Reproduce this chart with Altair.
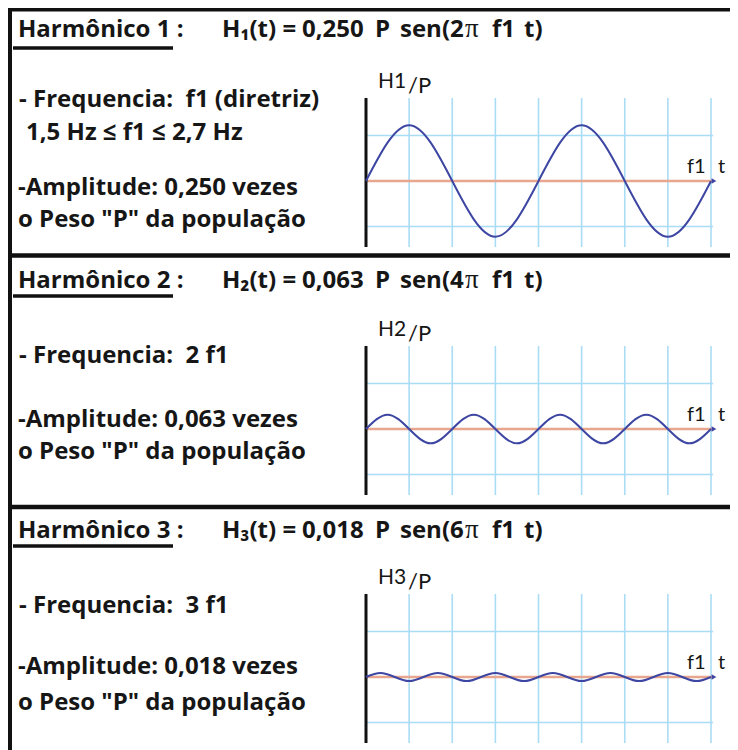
import altair as alt
import pandas as pd

# ---------------- data ----------------
x_h1 = [0, 1, 2, 3, 4, 5, 6, 7, 8]
y_h1 = [0, 0.245, 0, -0.245, 0, 0.245, 0, -0.245, 0]

x_h2 = [0, 0.5, 1, 1.5, 2, 2.5, 3, 3.5, 4, 4.5, 5, 5.5, 6, 6.5, 7, 7.5, 8]
y_h2 = [0, 0.063, 0, -0.063, 0, 0.063, 0, -0.063, 0, 0.063, 0, -0.063, 0, 0.063, 0, -0.063, 0]

x_h3 = [0, 0.333, 0.667, 1, 1.333, 1.667, 2, 2.333, 2.667, 3, 3.333, 3.667, 4,
        4.333, 4.667, 5, 5.333, 5.667, 6, 6.333, 6.667, 7, 7.333, 7.667, 8]
y_h3 = [0, 0.018, 0, -0.018, 0, 0.018, 0, -0.018, 0, 0.018, 0, -0.018, 0,
        0.018, 0, -0.018, 0, 0.018, 0, -0.018, 0, 0.018, 0, -0.018, 0]

grid_x = [1, 2, 3, 4, 5, 6, 7, 8]
grid_y = [-0.2, 0.2]

titles = ["Harmônico 1 :", "Harmônico 2 :", "Harmônico 3 :"]
formula_h = ["H₁(t) =", "H₂(t) =", "H₃(t) ="]
formula_amp = ["0,250", "0,063", "0,018"]
formula_sen = ["sen(2", "sen(4", "sen(6"]
freq_lines = ["- Frequencia:\u00a0 f1 (diretriz)", "- Frequencia:\u00a0 2 f1", "- Frequencia:\u00a0 3 f1"]
range_line = "1,5 Hz ≤ f1 ≤ 2,7 Hz"
amp_lines = ["-Amplitude: 0,250 vezes", "-Amplitude: 0,063 vezes", "-Amplitude: 0,018 vezes"]
peso_line = 'o Peso "P" da população'
ylabels = ["H1", "H2", "H3"]

# ---------------- styling / layout ----------------
W, H = 722, 742
TXT = "#161616"
GRID = "#a9dcf5"
CURVE = "#3d46a2"
ZERO = "#e8a68e"
FONT = "Open Sans"
FS = 24

zeros = [173, 421, 669]          # pixel position of each panel's zero line
XS = alt.Scale(domain=[0, 8], range=[358, 703], nice=False, zero=False)

one = pd.DataFrame({"a": [0]})


def ys(z):
    return alt.Scale(domain=[-0.2, 0.2], range=[z + 45.5, z - 45.5], nice=False, zero=False)


def panel(xv, yv, z):
    sc = ys(z)
    cdf = pd.DataFrame({"x": xv, "y": yv})
    gx = pd.DataFrame({"gx": grid_x})
    gy = pd.DataFrame({"gy": grid_y})
    vgrid = alt.Chart(gx).mark_rule(color=GRID, strokeWidth=1.6).encode(
        x=alt.X("gx:Q", scale=XS, axis=None),
        y=alt.YDatum(0.365, scale=sc, axis=None),
        y2=alt.Y2Datum(-0.29),
    )
    hgrid = alt.Chart(gy).mark_rule(color=GRID, strokeWidth=1.6).encode(
        y=alt.Y("gy:Q", scale=sc, axis=None),
        x=alt.XDatum(0, scale=XS, axis=None),
        x2=alt.X2Datum(8.05),
    )
    zline = alt.Chart(one).mark_rule(color=ZERO, strokeWidth=2.5).encode(
        y=alt.YDatum(0, scale=sc, axis=None),
        x=alt.XDatum(0, scale=XS, axis=None),
        x2=alt.X2Datum(8.05),
    )
    axis = alt.Chart(one).mark_rule(color="#111111", strokeWidth=3).encode(
        x=alt.XDatum(0, scale=XS, axis=None),
        y=alt.YDatum(0.365, scale=sc, axis=None),
        y2=alt.Y2Datum(-0.29),
    )
    curve = alt.Chart(cdf).mark_line(color=CURVE, strokeWidth=2, interpolate="natural").encode(
        x=alt.X("x:Q", scale=XS, axis=None),
        y=alt.Y("y:Q", scale=sc, axis=None),
    )
    arrow = alt.Chart(cdf.tail(1)).mark_point(shape="triangle-right", filled=True, size=30,
                                               color=CURVE, opacity=1, xOffset=3).encode(
        x=alt.X("x:Q", scale=XS, axis=None),
        y=alt.Y("y:Q", scale=sc, axis=None),
    )
    return alt.layer(vgrid, hgrid, zline, axis, curve, arrow)


def txt(s, x, y, size=FS, weight="bold", align="left", font=FONT, style=None):
    kw = dict(text=s, align=align, baseline="alphabetic", font=font,
              fontSize=size, fontWeight=weight, color=TXT)
    if style:
        kw["fontStyle"] = style
    return alt.Chart(one).mark_text(**kw).encode(x=alt.value(x), y=alt.value(y))


def hline(x1, x2, y, w, color="#111111"):
    return alt.Chart(one).mark_rule(color=color, strokeWidth=w).encode(
        x=alt.value(x1), x2=alt.value(x2), y=alt.value(y))


def vline(x, y1, y2, w, color="#111111"):
    return alt.Chart(one).mark_rule(color=color, strokeWidth=w).encode(
        x=alt.value(x), y=alt.value(y1), y2=alt.value(y2))


layers = []
layers.append(panel(x_h1, y_h1, zeros[0]))
layers.append(panel(x_h2, y_h2, zeros[1]))
layers.append(panel(x_h3, y_h3, zeros[2]))

# borders
layers.append(hline(0, W, 1.5, 4))
layers.append(hline(2, W, 247.5, 4.5))
layers.append(hline(2, W, 499, 4.5))
layers.append(vline(2, 0, H, 4))

header_base = [29, 280, 530]
underline_y = [40, 288, 538]
for i in range(3):
    hb = header_base[i]
    layers.append(txt(titles[i], 10, hb))
    layers.append(hline(5, 165, underline_y[i], 3.5))
    layers.append(txt(formula_h[i], 214, hb))
    layers.append(txt(formula_amp[i], 294, hb))
    layers.append(txt("P", 367, hb))
    layers.append(txt(formula_sen[i], 392, hb))
    layers.append(txt("π", 457, hb, size=27, weight="normal", font="Liberation Serif"))
    layers.append(txt("f1", 484, hb))
    layers.append(txt("t)", 516, hb))
    z = zeros[i]
    layers.append(txt(ylabels[i], 370, z - 93, size=21, weight="normal", font="Lato"))
    layers.append(txt("/P", 400, z - 88, size=22, weight="normal", font="Lato"))
    layers.append(txt("f1", 679, z - 8, size=20, weight="normal", font="Lato"))
    layers.append(txt("t", 710, z - 8, size=20, weight="normal", font="Lato"))

# left column texts
layers.append(txt(freq_lines[0], 11, 99))
layers.append(txt(range_line, 18, 132))
layers.append(txt(amp_lines[0], 10, 187))
layers.append(txt(peso_line, 10, 219))

layers.append(txt(freq_lines[1], 11, 355))
layers.append(txt(amp_lines[1], 10, 419))
layers.append(txt(peso_line, 10, 451))

layers.append(txt(freq_lines[2], 11, 605))
layers.append(txt(amp_lines[2], 10, 666))
layers.append(txt(peso_line, 10, 702))

chart = alt.layer(*layers).resolve_scale(x="independent", y="independent").properties(
    width=W, height=H, padding=0, autosize=alt.AutoSizeParams(type="none")
).configure_view(stroke=None)

chart.save("out.html", embed_options={"renderer": "svg", "actions": False})
